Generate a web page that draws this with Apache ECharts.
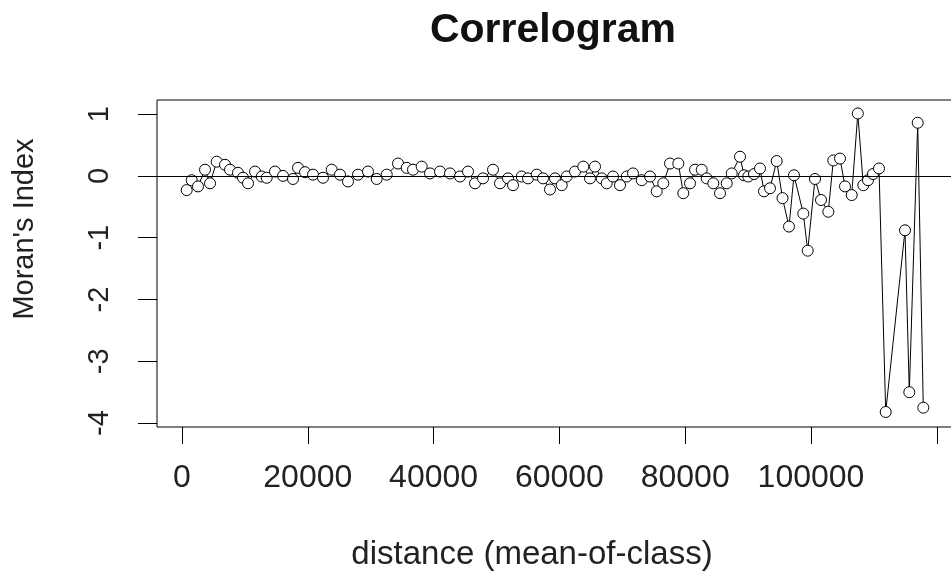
<!DOCTYPE html>
<html>
<head>
<meta charset="utf-8">
<title>Correlogram</title>
<script src="https://cdn.jsdelivr.net/npm/echarts@6/dist/echarts.min.js"></script>
<style>
  html, body { margin: 0; padding: 0; background: #fff; }
  #chart { width: 951px; height: 577px; }
</style>
</head>
<body>
<div id="chart"></div>
<script>
// mean-of-class distance for each class
var distances = [
  747, 1542, 2544, 3657, 4452, 5517, 6836, 7631, 8903, 9698,
  10493, 11606, 12671, 13466, 14785, 16057, 17647, 18442, 19555, 20827,
  22417, 23800, 25119, 26391, 27981, 29571, 30954, 32544, 34340, 35723,
  36725, 38108, 39428, 41017, 42607, 44197, 45469, 46582, 47854, 49444,
  50556, 51828, 52623, 54006, 55008, 56391, 57393, 58506, 59300, 60366,
  61160, 62480, 63800, 64865, 65660, 66725, 67520, 68522, 69634, 70700,
  71701, 73084, 74404, 75469, 76518, 77583, 78903, 79698, 80763, 81558,
  82623, 83418, 84467, 85533, 86598, 87393, 88712, 89348, 90032, 90938,
  91892, 92528, 93482, 94547, 95469, 96503, 97297, 98776, 99475, 100636,
  101590, 102750, 103545, 104610, 105405, 106471, 107440, 108315, 109062, 109857,
  110811, 111876, 114944, 115628, 116963, 117854
];
// Moran's I for each class
var moranI = [
  -0.23, -0.07, -0.17, 0.10, -0.12, 0.23, 0.18, 0.10, 0.05, -0.03,
  -0.12, 0.07, -0.01, -0.03, 0.07, 0.00, -0.05, 0.13, 0.06, 0.02,
  -0.03, 0.10, 0.02, -0.09, 0.02, 0.07, -0.05, 0.02, 0.20, 0.13,
  0.10, 0.15, 0.04, 0.07, 0.04, -0.01, 0.07, -0.12, -0.04, 0.10,
  -0.12, -0.04, -0.15, -0.01, -0.04, 0.02, -0.04, -0.22, -0.04, -0.15,
  -0.01, 0.07, 0.15, -0.04, 0.15, -0.04, -0.12, -0.01, -0.15, -0.01,
  0.04, -0.07, -0.01, -0.25, -0.12, 0.20, 0.20, -0.28, -0.12, 0.10,
  0.10, -0.04, -0.12, -0.28, -0.12, 0.04, 0.31, 0.01, -0.01, 0.03,
  0.12, -0.25, -0.20, 0.24, -0.36, -0.82, 0.01, -0.61, -1.21, -0.05,
  -0.39, -0.58, 0.25, 0.28, -0.17, -0.31, 1.01, -0.15, -0.07, 0.03,
  0.12, -3.82, -0.88, -3.50, 0.86, -3.75
];
var xTicks = [0, 20000, 40000, 60000, 80000, 100000, 120000];
var xTickLabels = [0, 20000, 40000, 60000, 80000, 100000];
var yTicks = [-4, -3, -2, -1, 0, 1];

var FONT = "'Liberation Sans', Arial, sans-serif";
var points = [];
for (var i = 0; i < distances.length; i++) {
  points.push([distances[i], moranI[i]]);
}

var myChart = echarts.init(document.getElementById('chart'));
var option = {
  backgroundColor: '#fff',
  animation: false,
  title: {
    text: 'Correlogram',
    left: 548,
    top: 5,
    textAlign: 'center',
    textStyle: { fontFamily: FONT, fontSize: 41, fontWeight: 'bold', color: '#111' }
  },
  grid: {
    left: 157, top: 100, width: 800, bottom: 150,
    outerBoundsMode: 'none',
    show: true, borderColor: '#000', borderWidth: 1, backgroundColor: 'transparent'
  },
  xAxis: {
    type: 'value',
    min: -3975,
    max: 123210,
    splitLine: { show: false },
    axisLine: { show: false, onZero: false },
    axisTick: { show: true, length: 17, customValues: xTicks, lineStyle: { color: '#000' } },
    axisLabel: {
      customValues: xTickLabels, margin: 35,
      formatter: function (v) { return String(v); },
      fontFamily: FONT, fontSize: 32, color: '#222'
    }
  },
  yAxis: {
    type: 'value',
    min: -4.063,
    max: 1.228,
    splitLine: { show: false },
    axisLine: { show: false, onZero: false },
    axisTick: { show: true, length: 19, customValues: yTicks, lineStyle: { color: '#000' } },
    axisLabel: {
      customValues: yTicks, margin: 43, rotate: 90,
      formatter: function (v) { return String(v); },
      fontFamily: FONT, fontSize: 29, color: '#222'
    }
  },
  graphic: [
    {
      type: 'text', x: 532, y: 555,
      style: {
        text: 'distance (mean-of-class)', font: "33px 'Liberation Sans', Arial, sans-serif",
        fill: '#222', align: 'center', verticalAlign: 'middle'
      }
    },
    {
      type: 'text', x: 25, y: 229, rotation: Math.PI / 2,
      style: {
        text: "Moran's Index", font: "29px 'Liberation Sans', Arial, sans-serif",
        fill: '#222', align: 'center', verticalAlign: 'middle'
      }
    }
  ],
  series: [{
    type: 'line',
    data: points,
    symbol: 'circle',
    symbolSize: 11,
    showAllSymbol: true,
    lineStyle: { color: '#000', width: 1 },
    itemStyle: { color: '#fff', borderColor: '#000', borderWidth: 1 },
    markLine: {
      silent: true,
      symbol: 'none',
      label: { show: false },
      lineStyle: { color: '#000', width: 1, type: 'solid' },
      data: [{ yAxis: 0 }]
    }
  }]
};
myChart.setOption(option);
</script>
</body>
</html>
